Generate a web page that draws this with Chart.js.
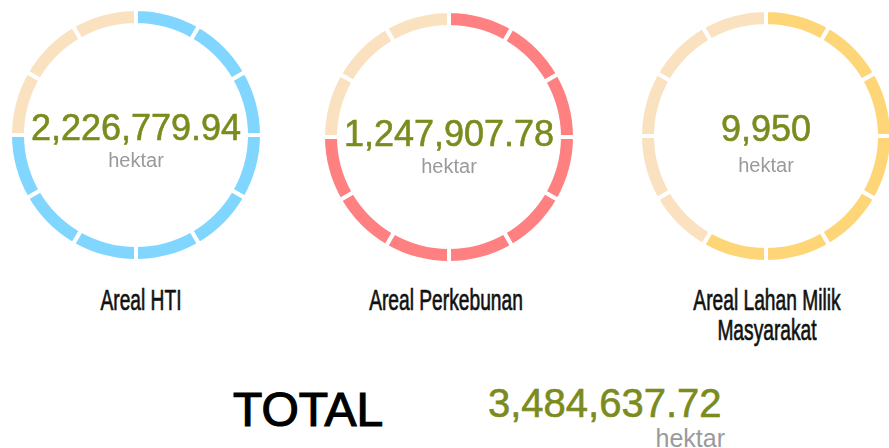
<!DOCTYPE html>
<html>
<head>
<meta charset="utf-8">
<script src="https://cdn.jsdelivr.net/npm/chart.js@4"></script>
<style>
  html, body { margin: 0; padding: 0; background: #fff; }
  body { width: 889px; height: 448px; overflow: hidden; position: relative; font-family: "Liberation Sans", Arial, sans-serif; }
  canvas { position: absolute; }
  .num { position: absolute; line-height: 1; font-size: 36px; color: #7b8b1d; white-space: nowrap; transform: translateX(-50%); -webkit-text-stroke: 0.6px #7b8b1d; }
  .unit { position: absolute; line-height: 1; font-size: 20px; color: #9a9a9a; white-space: nowrap; transform: translateX(-50%); }
  .lbl { position: absolute; line-height: 30px; font-size: 30px; color: #111; text-align: center; white-space: nowrap; transform: translateX(-50%) scaleX(0.64); -webkit-text-stroke: 0.7px #111; }
  #total { position: absolute; left: 233px; top: 386px; font-size: 48px; line-height: 1; color: #000; -webkit-text-stroke: 1.2px #000; }
  #totalNum { position: absolute; left: 488px; top: 383px; font-size: 40px; line-height: 1; color: #7b8b1d; -webkit-text-stroke: 0.6px #7b8b1d; }
  #totalUnit { position: absolute; right: 164px; top: 426px; font-size: 25px; line-height: 1; color: #9a9a9a; }
</style>
</head>
<body>
<div id="wrap"></div>
<div id="total">TOTAL</div>
<div id="totalNum"></div>
<div id="totalUnit">hektar</div>
<script>
const categories = ["Areal HTI", "Areal Perkebunan", "Areal Lahan Milik|Masyarakat"];
const areaValues = [2226779.94, 1247907.78, 9950];
const valueLabels = ["2,226,779.94", "1,247,907.78", "9,950"];
const filledSegments = [9, 9, 7];
const segmentValues = [1, 1, 1, 1, 1, 1, 1, 1, 1, 1, 1, 1];
const totalLabel = "3,484,637.72";
const unitLabel = "hektar";

const fillColors = ["#80d6ff", "#ff8080", "#ffd677"];
const restColor = "#fae2c1";

// layout of each ring: centre, tops for the texts
const rings = [
  { cx: 136, cy: 135, numTop: 110, unitTop: 150, lblX: 141 },
  { cx: 449, cy: 137, numTop: 116, unitTop: 156, lblX: 446 },
  { cx: 766, cy: 136, numTop: 111, unitTop: 155, lblX: 767 }
];
const SIZE = 260;
const RADIUS = 126;
const INNER = 110;

const wrap = document.getElementById("wrap");

categories.forEach((cat, i) => {
  const r = rings[i];
  const canvas = document.createElement("canvas");
  canvas.width = SIZE;
  canvas.height = SIZE;
  canvas.style.left = (r.cx - SIZE / 2) + "px";
  canvas.style.top = (r.cy - SIZE / 2) + "px";
  canvas.style.width = SIZE + "px";
  canvas.style.height = SIZE + "px";
  wrap.appendChild(canvas);

  const colors = segmentValues.map((v, k) => k < filledSegments[i] ? fillColors[i] : restColor);

  new Chart(canvas, {
    type: "doughnut",
    data: {
      labels: segmentValues.map((v, k) => cat + " " + (k + 1)),
      datasets: [{
        data: segmentValues,
        backgroundColor: colors,
        borderColor: "#ffffff",
        borderWidth: 4
      }]
    },
    options: {
      responsive: false,
      animation: false,
      events: [],
      radius: RADIUS,
      cutout: (INNER / RADIUS * 100) + "%",
      layout: { padding: 0 },
      plugins: { legend: { display: false }, tooltip: { enabled: false } }
    }
  });

  const num = document.createElement("div");
  num.className = "num";
  num.style.left = r.cx + "px";
  num.style.top = r.numTop + "px";
  num.textContent = valueLabels[i];
  wrap.appendChild(num);

  const unit = document.createElement("div");
  unit.className = "unit";
  unit.style.left = r.cx + "px";
  unit.style.top = r.unitTop + "px";
  unit.textContent = unitLabel;
  wrap.appendChild(unit);

  const lbl = document.createElement("div");
  lbl.className = "lbl";
  lbl.style.left = r.lblX + "px";
  lbl.style.top = "285px";
  lbl.innerHTML = cat.split("|").join("<br>");
  wrap.appendChild(lbl);
});

document.getElementById("totalNum").textContent = totalLabel;
</script>
</body>
</html>
